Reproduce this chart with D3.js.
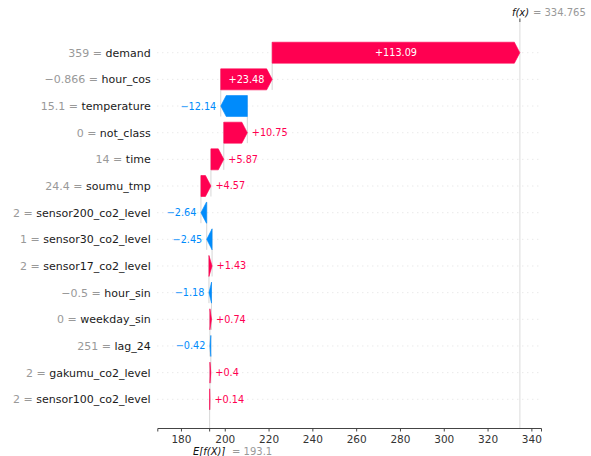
<!DOCTYPE html>
<html><head><meta charset="utf-8">
<script src="https://cdn.jsdelivr.net/npm/d3@7"></script>
<style>html,body{margin:0;padding:0;background:#fff;}svg{display:block;font-family:"DejaVu Sans",sans-serif;}</style>
</head><body><svg id="c" width="591" height="456"></svg>
<script>
const featureValues = ["359", "\u22120.866", "15.1", "0", "14", "24.4", "2", "1", "2", "\u22120.5", "0", "251", "2", "2"];
const featureNames = ["demand", "hour_cos", "temperature", "not_class", "time", "soumu_tmp", "sensor200_co2_level", "sensor30_co2_level", "sensor17_co2_level", "hour_sin", "weekday_sin", "lag_24", "gakumu_co2_level", "sensor100_co2_level"];
const shapValues = [113.09, 23.48, -12.14, 10.75, 5.87, 4.57, -2.64, -2.45, 1.43, -1.18, 0.74, -0.42, 0.4, 0.14];
const baseValue = 193.1;
const fxValue = 334.765;
const xTicks = [180, 200, 220, 240, 260, 280, 300, 320, 340];

const RED = "#ff0051", BLUE = "#008bfb";
const svg = d3.select("#c");
const x = d3.scaleLinear().domain([169.2, 344.4]).range([157.3, 541]);
const y = d3.scalePoint().domain(d3.range(featureNames.length)).range([52.7, 399.3]);
const axisY = 428, topY = 22;
const barH = 21, headLen = 5.5;

// cumulative from the bottom row (base value) upward
const n = shapValues.length;
const starts = new Array(n), ends = new Array(n);
let acc = baseValue;
for (let i = n - 1; i >= 0; i--) { starts[i] = acc; acc += shapValues[i]; ends[i] = acc; }

// gridlines
svg.append("g").selectAll("line").data(d3.range(n)).join("line")
  .attr("x1", x.range()[0]).attr("x2", x.range()[1])
  .attr("y1", d => y(d)).attr("y2", d => y(d))
  .attr("stroke", "#cccccc").attr("stroke-width", 0.6).attr("stroke-dasharray", "1,4");

// connector lines
const conn = svg.append("g");
for (let i = 0; i < n - 1; i++) {
  conn.append("line").attr("x1", x(starts[i])).attr("x2", x(starts[i]))
    .attr("y1", y(i) - barH / 2).attr("y2", y(i + 1) + barH / 2)
    .attr("stroke", "#bbbbbb").attr("stroke-width", 0.6);
}
// f(x) line and base line
conn.append("line").attr("x1", x(fxValue)).attr("x2", x(fxValue)).attr("y1", topY).attr("y2", axisY)
  .attr("stroke", "#cccccc").attr("stroke-width", 0.7);
conn.append("line").attr("x1", x(baseValue)).attr("x2", x(baseValue)).attr("y1", y(n - 1)).attr("y2", axisY)
  .attr("stroke", "#bbbbbb").attr("stroke-width", 0.6);

// arrows
function arrowPath(i) {
  const x0 = x(starts[i]), x1 = x(ends[i]);
  const dist = Math.abs(x1 - x0), dir = x1 >= x0 ? 1 : -1;
  const hl = Math.min(dist, headLen);
  const xb = x1 - dir * hl;
  const t = y(i) - barH / 2, b = y(i) + barH / 2, m = y(i);
  return `M${x0},${t}L${xb},${t}L${x1},${m}L${xb},${b}L${x0},${b}Z`;
}
svg.append("g").selectAll("path").data(d3.range(n)).join("path")
  .attr("d", arrowPath)
  .attr("fill", i => shapValues[i] >= 0 ? RED : BLUE)
  .attr("stroke", i => shapValues[i] >= 0 ? RED : BLUE)
  .attr("stroke-width", 0.6).attr("stroke-linejoin", "miter");

// value labels
const fmt = v => (v >= 0 ? "+" : "\u2212") + String(Math.abs(v));
const vl = svg.append("g").attr("font-size", "9.7px");
for (let i = 0; i < n; i++) {
  const x0 = x(starts[i]), x1 = x(ends[i]);
  const dist = Math.abs(x1 - x0);
  const t = vl.append("text").attr("y", y(i)).attr("dy", "0.36em").text(fmt(shapValues[i]));
  const w = t.node().getComputedTextLength();
  if (w <= dist - 2) {
    t.attr("x", (x0 + x1) / 2).attr("text-anchor", "middle").attr("fill", "#fff");
  } else if (shapValues[i] >= 0) {
    t.attr("x", x1 + 4.5).attr("text-anchor", "start").attr("fill", RED);
  } else {
    t.attr("x", x1 - 4.5).attr("text-anchor", "end").attr("fill", BLUE);
  }
}

// y labels
const yl = svg.append("g").attr("font-size", "11px");
for (let i = 0; i < n; i++) {
  const t = yl.append("text").attr("x", 150.7).attr("y", y(i)).attr("dy", "0.36em").attr("text-anchor", "end");
  t.append("tspan").attr("fill", "#999999").text(featureValues[i] + " = ");
  t.append("tspan").attr("fill", "#1a1a1a").text(featureNames[i]);
}

// bottom axis
const ax = svg.append("g").attr("transform", `translate(0,${axisY})`)
  .call(d3.axisBottom(x).tickValues(xTicks).tickSize(3.5).tickPadding(4).tickFormat(d3.format("d")));
ax.select(".domain").attr("stroke", "#444").attr("stroke-width", 1);
ax.selectAll(".tick line").attr("stroke", "#444");
ax.selectAll(".tick text").attr("fill", "#333").attr("font-size", "10.5px").attr("font-family", "DejaVu Sans");
svg.append("line").attr("x1", x(baseValue)).attr("x2", x(baseValue)).attr("y1", axisY).attr("y2", axisY + 3.5).attr("stroke", "#444");

// top f(x) tick and label
svg.append("line").attr("x1", x(fxValue)).attr("x2", x(fxValue)).attr("y1", topY - 3.5).attr("y2", topY).attr("stroke", "#444");
const tl = svg.append("text").attr("x", x(fxValue) - 8).attr("y", 15.5).attr("font-size", "10px");
tl.append("tspan").attr("font-style", "italic").attr("fill", "#111").text("f(x)");
svg.append("text").attr("x", x(fxValue) + 13).attr("y", 15.5).attr("font-size", "10px").attr("fill", "#999").text("= " + fxValue);

// bottom E[f(X)] label
svg.append("text").attr("x", x(baseValue) - 16.6).attr("y", 454.5).attr("font-size", "10px").attr("font-style", "italic").attr("fill", "#111").text("E[f(X)]");
svg.append("text").attr("x", x(baseValue) + 22.4).attr("y", 454.5).attr("font-size", "10px").attr("fill", "#999").text("= " + baseValue);
</script></body></html>
